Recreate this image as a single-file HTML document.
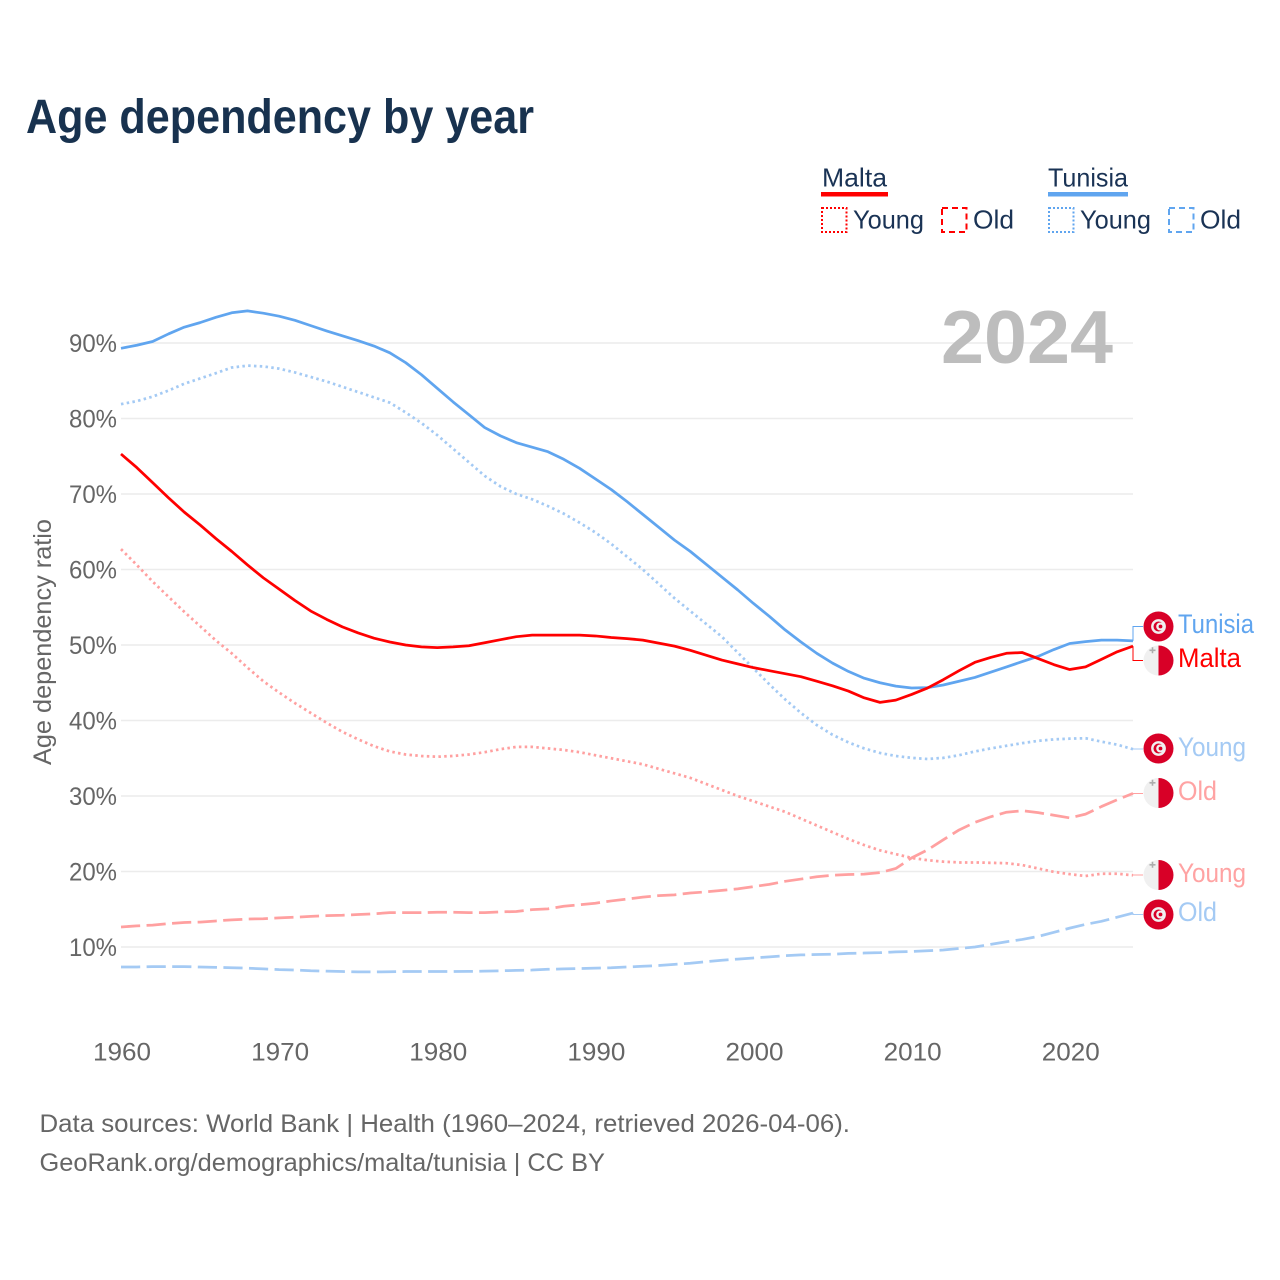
<!DOCTYPE html>
<html lang="en">
<head>
<meta charset="utf-8">
<title>Age dependency by year</title>
<style>
html,body{margin:0;padding:0;background:#fff;}
svg{display:block;font-family:"Liberation Sans",sans-serif;}
.lg{font-size:26px;fill:#1a3355;}
.tick{font-size:25px;fill:#666;}
.foot{font-size:25px;fill:#666;}
.lab{font-size:26.5px;}
</style>
</head>
<body>
<svg id="chart" xmlns="http://www.w3.org/2000/svg" width="1280" height="1280" viewBox="0 0 1280 1280">
<defs>
<g id="flag-tn">
<circle r="15" fill="#d80027"/>
<circle r="7.4" fill="#f0f0f0"/>
<circle r="5" fill="#d80027"/>
<circle cx="1.7" r="4" fill="#f0f0f0"/>
<circle cx="2" r="1.9" fill="#d80027"/>
</g>
<g id="flag-mt">
<circle r="15" fill="#f0f0f0"/>
<path d="M0,-15 A15,15 0 0 1 0,15 Z" fill="#d80027"/>
<path d="M-7,-11 h2.2 v-2.2 h1.6 v2.2 h2.2 v1.6 h-2.2 v2.2 h-1.6 v-2.2 h-2.2 z" transform="translate(-2 0)" fill="#acacac"/>
</g>
</defs>

<text x="26" y="133" font-size="48" font-weight="700" fill="#18324f" textLength="508" lengthAdjust="spacingAndGlyphs">Age dependency by year</text>

<g>
<text class="lg" x="822" y="186.5" textLength="65" lengthAdjust="spacingAndGlyphs">Malta</text>
<rect x="821" y="192" width="67" height="4.5" fill="#ff0000"/>
<rect x="822" y="208" width="24.5" height="24" fill="none" stroke="#ff0000" stroke-width="2" stroke-dasharray="2 2"/>
<text class="lg" x="853" y="228.5" textLength="71" lengthAdjust="spacingAndGlyphs">Young</text>
<rect x="942" y="208" width="24.5" height="24" fill="none" stroke="#ff0000" stroke-width="2" stroke-dasharray="6 4"/>
<text class="lg" x="973" y="228.5" textLength="41" lengthAdjust="spacingAndGlyphs">Old</text>
<text class="lg" x="1048" y="186.5" textLength="80" lengthAdjust="spacingAndGlyphs">Tunisia</text>
<rect x="1048" y="192" width="80" height="4.5" fill="#60a5ef"/>
<rect x="1049" y="208" width="24.5" height="24" fill="none" stroke="#60a5ef" stroke-width="2" stroke-dasharray="2 2"/>
<text class="lg" x="1080" y="228.5" textLength="71" lengthAdjust="spacingAndGlyphs">Young</text>
<rect x="1169" y="208" width="24.5" height="24" fill="none" stroke="#60a5ef" stroke-width="2" stroke-dasharray="6 4"/>
<text class="lg" x="1200" y="228.5" textLength="41" lengthAdjust="spacingAndGlyphs">Old</text>
</g>

<g id="grid"></g>
<g id="yticks"></g>
<g id="xticks"></g>

<text x="1113" y="363" text-anchor="end" font-size="75" font-weight="700" fill="#bdbdbd" textLength="172" lengthAdjust="spacingAndGlyphs">2024</text>

<text transform="translate(51,642) rotate(-90)" text-anchor="middle" font-size="25" fill="#666" textLength="246" lengthAdjust="spacingAndGlyphs">Age dependency ratio</text>

<g id="series"></g>

<g>
<use href="#flag-tn" x="1158.5" y="626.5"/>
<text class="lab" x="1178" y="633" fill="#60a5ef" textLength="76" lengthAdjust="spacingAndGlyphs">Tunisia</text>
<use href="#flag-mt" x="1158.5" y="660.5"/>
<text class="lab" x="1178" y="667" fill="#ff0000" textLength="63" lengthAdjust="spacingAndGlyphs">Malta</text>
<use href="#flag-tn" x="1158.5" y="748.5"/>
<text class="lab" x="1178" y="756" fill="#a4caf4" textLength="68" lengthAdjust="spacingAndGlyphs">Young</text>
<use href="#flag-mt" x="1158.5" y="793"/>
<text class="lab" x="1178" y="800" fill="#ffa3a3" textLength="39" lengthAdjust="spacingAndGlyphs">Old</text>
<use href="#flag-mt" x="1158.5" y="875"/>
<text class="lab" x="1178" y="882" fill="#ffa3a3" textLength="68" lengthAdjust="spacingAndGlyphs">Young</text>
<use href="#flag-tn" x="1158.5" y="914.5"/>
<text class="lab" x="1178" y="921" fill="#a4caf4" textLength="39" lengthAdjust="spacingAndGlyphs">Old</text>
</g>

<text class="foot" x="39.5" y="1132" textLength="810.5" lengthAdjust="spacingAndGlyphs">Data sources: World Bank | Health (1960–2024, retrieved 2026-04-06).</text>
<text class="foot" x="39.5" y="1171" textLength="565.5" lengthAdjust="spacingAndGlyphs">GeoRank.org/demographics/malta/tunisia | CC BY</text>

<script>
var years = [1960,1961,1962,1963,1964,1965,1966,1967,1968,1969,
1970,1971,1972,1973,1974,1975,1976,1977,1978,1979,
1980,1981,1982,1983,1984,1985,1986,1987,1988,1989,
1990,1991,1992,1993,1994,1995,1996,1997,1998,1999,
2000,2001,2002,2003,2004,2005,2006,2007,2008,2009,
2010,2011,2012,2013,2014,2015,2016,2017,2018,2019,
2020,2021,2022,2023,2024];
var tunisiaTotal = [89.3,89.7,90.2,91.2,92.1,92.7,93.4,94.0,94.25,93.95,
93.55,93.0,92.3,91.6,90.95,90.3,89.6,88.7,87.4,85.8,
84.0,82.2,80.5,78.8,77.7,76.8,76.2,75.6,74.6,73.4,
72.0,70.6,69.0,67.3,65.6,63.9,62.4,60.7,59.0,57.3,
55.5,53.8,52.0,50.4,48.9,47.6,46.5,45.6,45.0,44.55,
44.3,44.35,44.7,45.2,45.7,46.4,47.1,47.8,48.5,49.4,
50.2,50.45,50.65,50.65,50.55];
var tunisiaYoung = [81.9,82.3,82.9,83.7,84.6,85.3,86.0,86.75,87.0,86.9,
86.6,86.1,85.5,84.9,84.2,83.5,82.8,82.1,80.8,79.4,
77.8,76.0,74.2,72.4,71.0,70.0,69.3,68.4,67.4,66.2,
64.9,63.4,61.7,60.0,58.1,56.2,54.5,52.8,51.1,49.0,
46.9,44.8,42.8,41.0,39.4,38.1,37.1,36.3,35.7,35.3,
35.05,34.9,35.05,35.4,35.9,36.3,36.65,37.0,37.3,37.5,
37.6,37.65,37.2,36.8,36.2];
var tunisiaOld = [7.35,7.35,7.4,7.4,7.4,7.35,7.3,7.25,7.2,7.1,
7.0,6.95,6.85,6.8,6.75,6.7,6.7,6.72,6.75,6.75,
6.75,6.75,6.77,6.8,6.85,6.9,6.95,7.05,7.1,7.15,
7.2,7.25,7.35,7.45,7.55,7.7,7.85,8.05,8.25,8.4,
8.55,8.7,8.85,8.95,9.0,9.05,9.15,9.2,9.25,9.35,
9.4,9.5,9.6,9.8,10.0,10.35,10.7,11.0,11.4,11.95,
12.5,13.0,13.4,13.95,14.5];
var maltaTotal = [75.3,73.5,71.5,69.5,67.6,65.9,64.1,62.4,60.6,58.9,
57.4,55.9,54.5,53.4,52.4,51.6,50.9,50.4,50.0,49.75,
49.65,49.75,49.9,50.3,50.7,51.1,51.3,51.3,51.3,51.3,
51.2,51.0,50.85,50.65,50.25,49.85,49.3,48.65,48.0,47.5,
47.0,46.6,46.2,45.8,45.2,44.6,43.9,43.0,42.4,42.7,
43.45,44.3,45.4,46.6,47.7,48.35,48.9,49.0,48.2,47.4,
46.75,47.1,48.1,49.1,49.85];
var maltaYoung = [62.7,60.6,58.4,56.4,54.4,52.5,50.6,48.9,47.0,45.2,
43.7,42.3,41.0,39.7,38.5,37.5,36.6,35.9,35.5,35.3,
35.2,35.3,35.5,35.8,36.2,36.5,36.5,36.3,36.1,35.8,
35.4,35.0,34.6,34.2,33.6,33.0,32.4,31.6,30.8,30.0,
29.3,28.6,27.9,27.0,26.1,25.2,24.3,23.5,22.8,22.3,
21.8,21.5,21.3,21.2,21.2,21.15,21.1,20.85,20.4,19.95,
19.65,19.4,19.7,19.7,19.5];
var maltaOld = [12.65,12.8,12.9,13.1,13.25,13.3,13.45,13.6,13.7,13.75,
13.85,13.95,14.05,14.15,14.2,14.3,14.4,14.55,14.55,14.55,
14.6,14.6,14.55,14.55,14.65,14.7,14.95,15.05,15.4,15.6,
15.8,16.1,16.35,16.6,16.8,16.9,17.15,17.3,17.5,17.7,
18.0,18.3,18.7,19.0,19.3,19.5,19.6,19.65,19.85,20.4,
21.8,22.85,24.2,25.5,26.5,27.25,27.85,28.05,27.8,27.45,
27.1,27.6,28.6,29.5,30.35];
var yTickValues = [10,20,30,40,50,60,70,80,90];
var xTickValues = [1960,1970,1980,1990,2000,2010,2020];

var NS = 'http://www.w3.org/2000/svg';
var X0 = 121, X1 = 1133, Y0 = 1022.5, PXPER = 7.55;
function xScale(yr){ return X0 + (yr - years[0]) * (X1 - X0) / (years[years.length - 1] - years[0]); }
function yScale(v){ return Y0 - v * PXPER; }

var gridG = document.getElementById('grid');
var yG = document.getElementById('yticks');
var xG = document.getElementById('xticks');
var seriesG = document.getElementById('series');

yTickValues.forEach(function(v){
  var l = document.createElementNS(NS, 'line');
  l.setAttribute('x1', X0);
  l.setAttribute('x2', X1);
  l.setAttribute('y1', yScale(v));
  l.setAttribute('y2', yScale(v));
  l.setAttribute('stroke', '#ececec');
  l.setAttribute('stroke-width', '1.5');
  
  
  gridG.appendChild(l);
  var t = document.createElementNS(NS, 'text');
  t.setAttribute('x', 117);
  t.setAttribute('y', yScale(v) + 9);
  t.setAttribute('text-anchor', 'end');
  t.setAttribute('class', 'tick');
  t.setAttribute('textLength', '48');
  t.setAttribute('lengthAdjust', 'spacingAndGlyphs');
  
  
  t.textContent = v + '%';
  yG.appendChild(t);
});

xTickValues.forEach(function(yr){
  var t = document.createElementNS(NS, 'text');
  t.setAttribute('x', xScale(yr) + 1);
  t.setAttribute('y', 1060.5);
  t.setAttribute('text-anchor', 'middle');
  t.setAttribute('class', 'tick');
  t.setAttribute('textLength', '58');
  t.setAttribute('lengthAdjust', 'spacingAndGlyphs');
  
  
  t.textContent = yr;
  xG.appendChild(t);
});

function drawSeries(values, color, dash, name, labelY){
  var d = '';
  values.forEach(function(v, i){
    d += (i ? 'L' : 'M') + xScale(years[i]).toFixed(2) + ',' + yScale(v).toFixed(2);
  });
  var p = document.createElementNS(NS, 'path');
  p.setAttribute('d', d);
  p.setAttribute('fill', 'none');
  p.setAttribute('stroke', color);
  p.setAttribute('stroke-width', '2.75');
  p.setAttribute('stroke-linejoin', 'round');
  if (dash) p.setAttribute('stroke-dasharray', dash);
  
  
  seriesG.appendChild(p);
  var endY = yScale(values[values.length - 1]);
  var c = document.createElementNS(NS, 'path');
  c.setAttribute('d', 'M' + X1 + ',' + endY.toFixed(2) + 'L' + X1 + ',' + labelY + 'L1143,' + labelY);
  c.setAttribute('fill', 'none');
  c.setAttribute('stroke', color);
  c.setAttribute('stroke-width', '1');
  
  
  seriesG.appendChild(c);
}

var DOT = '2.5 3.3', DASH = '19.2 6.4';
drawSeries(tunisiaOld, '#a4caf4', DASH, 'tunisia-old-line', 914.5);
drawSeries(tunisiaYoung, '#a4caf4', DOT, 'tunisia-young-line', 749);
drawSeries(maltaOld, '#ffa0a0', DASH, 'malta-old-line', 793.5);
drawSeries(maltaYoung, '#ffa0a0', DOT, 'malta-young-line', 875);
drawSeries(tunisiaTotal, '#60a5ef', '', 'tunisia-total-line', 626.5);
drawSeries(maltaTotal, '#ff0000', '', 'malta-total-line', 660.5);
</script>
</svg>
</body>
</html>
